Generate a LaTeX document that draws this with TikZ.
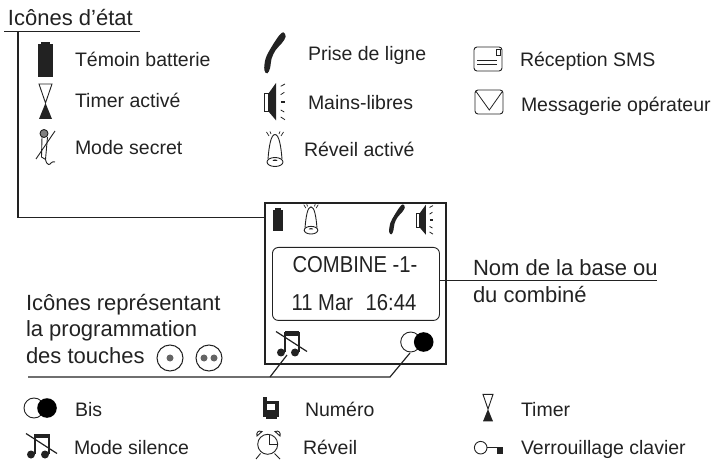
\documentclass[tikz,border=0pt]{standalone}
\usepackage{fontspec}
\setmainfont{Liberation Sans}
\newfontfamily\narrowfont[FakeStretch=0.88]{Liberation Sans}
\definecolor{ink}{HTML}{222222}
\tikzset{
  x=1pt,y=-1pt,
  lbl/.style={anchor=base west,inner sep=0pt,outer sep=0pt,text=ink,font=\fontsize{19.5}{22}\selectfont},
  biglbl/.style={lbl,font=\fontsize{22}{25}\selectfont},
  lcd/.style={anchor=base,inner sep=0pt,text=ink,font=\narrowfont\fontsize{23}{26}\selectfont},
  wire/.style={draw=ink,line width=1.2pt},
  thin line/.style={draw=ink,line width=.9pt},
  iconbattery/.pic={
    \fill[ink] (-7.5,-16) rectangle (7.5,17);
    \fill[ink] (-4.5,-18) rectangle (4,-16);
  },
  iconglass/.pic={
    \draw[thin line,fill=white] (-6.5,-17) -- (6.5,-17) -- (0,2) -- cycle;
    \fill[ink] (-6.5,18) -- (6.5,18) -- (0,2) -- cycle;
  },
  iconhandset/.pic={
    \fill[ink] plot[smooth cycle,tension=.6] coordinates {
      (8.3,-20.7) (10.7,-16.3) (6.7,-9.7) (0.7,-3) (-3.3,5.3) (-5,15.3)
      (-7.7,20.3) (-10.7,17) (-9.3,5.3) (-3.3,-6.3) (4,-17.3)};
  },
  iconspeaker/.pic={
    \draw[thin line] (-10.7,-8.3) rectangle (-6.7,9.3);
    \fill[ink] (-6.7,-8.3) -- (1,-19) -- (1,18.3) -- (-6.7,9.3) -- cycle;
    \draw[ink,line width=.8pt] (5.7,-15.7) -- (10,-18) (5.7,-7.3) -- (9.3,-9.7)
      (5.7,8) -- (9.3,10) (5.7,15) -- (10,17.7);
    \draw[ink,line width=1.6pt] (6,0) -- (10,0);
  },
  iconbell/.pic={
    \draw[thin line] (-7,9) .. controls (-6,-4) and (-4,-15.5) .. (0,-15.5)
      .. controls (4,-15.5) and (6,-4) .. (7,9);
    \draw[thin line] (0,12) ellipse (8 and 4.5);
    \fill[ink] (-2.5,11) arc (180:360:2.5 and 1.5) -- cycle;
    \draw[ink,line width=.7pt] (-6,-14) -- (-8.5,-18) (-4,-16) -- (-5,-18.5)
      (6,-14) -- (8.5,-18) (4,-16) -- (5,-18.5);
  },
  iconbis/.pic={
    \draw[thin line,fill=white] (0,0) circle (10);
    \fill[black] (13,0) circle (9.8);
  },
  iconnote/.pic={
    \fill[ink] (-5.5,-13.5) rectangle (9,-9);
    \draw[ink,line width=1.2pt] (-5,-13) -- (-5,7) (9,-13) -- (9,7);
    \fill[ink] (-9,7.5) circle (4) (5,7.5) circle (4);
    \draw[ink,line width=1.2pt] (-14,-13.5) -- (17,6.5);
  },
  icontouch/.pic={\draw[ink,line width=1pt] (0,0) circle (13);}
}
\begin{document}
\begin{tikzpicture}
\useasboundingbox (0,0) rectangle (715,470);

% heading and its connector
\node[biglbl] (hEtat) at (8,26) {Icônes d'état};
\coordinate (hL) at (4,31.5);
\coordinate (hR) at (140,31.5);
\coordinate (hDown) at (18,31.5);
\coordinate (hCorner) at (18,217.5);

% status icons, left column
\pic at (45.5,60.5) {iconbattery};
\node[lbl] (tBat) at (75,67) {Témoin batterie};
\pic at (45.5,101) {iconglass};
\node[lbl] (tTim) at (75,108) {Timer activé};
\fill[gray] (44,133.5) circle (4);
\draw[thin line] (44,133.5) circle (4);
\draw[thin line] (42,137) -- (41.5,157) -- (45.5,159.5) -- (47.5,137);
\draw[thin line] (55,131) -- (36,159);
\draw[thin line] (45.5,159.5) .. controls (47,166) and (50,165) .. (51,163) .. controls (52,161) and (54,162) .. (55,162);
\node[lbl] (tSec) at (75,155) {Mode secret};

% status icons, middle column
\pic at (275,53) {iconhandset};
\node[lbl] (tLig) at (308,61) {Prise de ligne};
\pic at (275,102) {iconspeaker};
\node[lbl] (tMai) at (308,110) {Mains-libres};
\pic at (275,150) {iconbell};
\node[lbl] (tRev) at (304,157) {Réveil activé};

% status icons, right column
\draw[thin line,rounded corners=3pt] (474,47) rectangle (502,71);
\draw[ink,line width=.7pt] (496.7,49) rectangle (500,55.7);
\draw[ink,line width=.7pt] (477.3,60.7) -- (497.3,60.7) (477.3,64.3) -- (497.3,64.3);
\node[lbl] (tSms) at (520,67) {Réception SMS};
\draw[thin line,rounded corners=3pt] (475,90) rectangle (503,114);
\draw[ink,line width=.8pt] (475.7,91) -- (489.3,110) -- (502.7,91);
\node[lbl] (tMsg) at (521,112) {Messagerie opérateur};

% screen
\node[draw=ink,line width=2pt,minimum width=181pt,minimum height=161pt,inner sep=0pt,anchor=north west] (screen) at (264,202) {};
\node[draw=ink,line width=.9pt,rounded corners=6pt,minimum width=167pt,minimum height=73pt,inner sep=0pt,anchor=north west] (lcdbox) at (272,247) {};
\node[lcd] (l1) at (355,273) {COMBINE -1-};
\node[lcd] (l2) at (354,311) {11 Mar\hspace{.55em}16:44};
\pic[scale=.65] at (278,220) {iconbattery};
\pic[scale=.85] at (311,220) {iconbell};
\pic[scale=.73] at (397,219.5) {iconhandset};
\pic[scale=.8] at (425,220) {iconspeaker};
\pic at (290,345) {iconnote};
\pic at (410.7,342) {iconbis};

% name connector
\node[biglbl] (tNom) at (473,275.5) {Nom de la base ou};
\node[biglbl] (tCom) at (473,303) {du combiné};
\coordinate (nomEnd) at (657,280.5);

% key programming text
\node[biglbl] (tP1) at (26,311) {Icônes représentant};
\node[biglbl] (tP2) at (26,337) {la programmation};
\node[biglbl] (tP3) at (26,363) {des touches};
\pic at (170,358) {icontouch};
\fill[ink!70] (170,358) circle (3.5);
\pic at (209,358) {icontouch};
\fill[ink!70] (204,358) circle (3.5) (214,358) circle (3.5);
\coordinate (pL) at (28,377);
\coordinate (pNote) at (270,377);
\coordinate (pBis) at (390,377);
\coordinate (noteTip) at (287,355);
\coordinate (bisTip) at (410,353);

% connectors
\draw[wire] (hL) -- (hR);
\draw[wire] (hDown) -- (hCorner) -- (hCorner -| screen.west);
\draw[wire] (lcdbox.east |- nomEnd) -- (nomEnd);
\draw[wire] (pL) -- (pBis) -- (bisTip);
\draw[wire] (pNote) -- (noteTip);

% bottom legend
\pic at (34,408) {iconbis};
\node[lbl] (tBis) at (75,416) {Bis};
\pic at (40,447) {iconnote};
\node[lbl] (tSil) at (74,454) {Mode silence};

% phone icon
\fill[ink] (263.3,401) rectangle (279.3,417);
\fill[ink] (263.3,396.7) rectangle (267,402);
\fill[ink] (266,416) rectangle (277,419.3);
\fill[white] (267.3,404.3) rectangle (275.3,410.3);
\node[lbl] (tNum) at (305,416) {Numéro};

% alarm clock icon
\draw[thin line] (267.7,444.3) circle (10);
\draw[thin line] (269.3,435) -- (269.3,444.3) -- (278.3,444.3);
\draw[thin line] (262,431.5) .. controls (258,430) and (256,433) .. (257,436) -- cycle;
\draw[thin line] (275,431.5) .. controls (279,430) and (281,433) .. (280,436) -- cycle;
\draw[thin line] (260.5,453.5) -- (256,459) (274.5,453.5) -- (280,459);
\node[lbl] (tRv) at (303,454) {Réveil};

\pic[scale=.77] at (488,407.5) {iconglass};
\node[lbl] (tTmr) at (521,416) {Timer};

% key icon
\draw[thin line] (480.7,447.7) circle (6.3);
\draw[thin line] (487,447.7) -- (500,447.7);
\fill[ink] (497.3,447) rectangle (503.3,454.3);
\node[lbl] (tKey) at (521,454) {Verrouillage clavier};
\end{tikzpicture}
\end{document}
